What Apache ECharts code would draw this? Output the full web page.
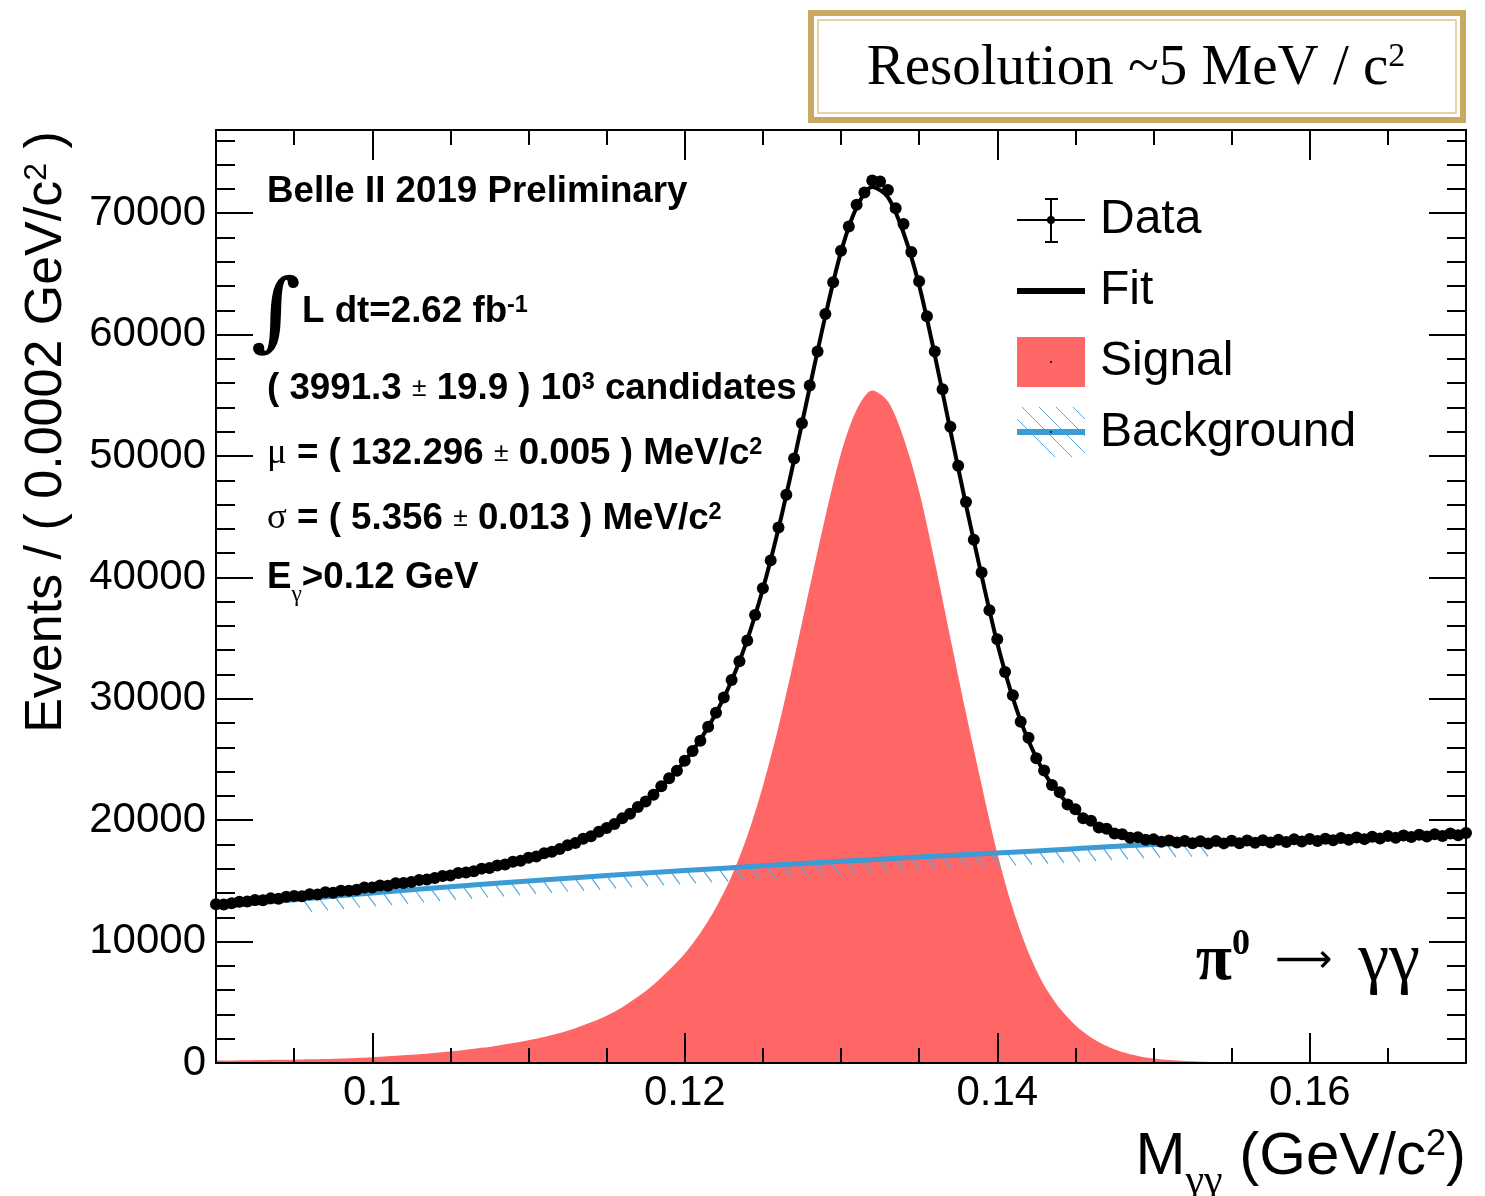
<!DOCTYPE html>
<html><head><meta charset="utf-8">
<script src="https://cdn.jsdelivr.net/npm/echarts@6/dist/echarts.min.js"></script>
<style>html,body{margin:0;padding:0;background:#fff}#c{width:1485px;height:1196px}</style>
</head><body><div id="c"></div>
<script>
// ---------------- values ----------------
const X_MIN = 0.09, X_MAX = 0.17, Y_MAX = 76850;
const xMajorTicks = [0.10, 0.12, 0.14, 0.16];
const xMajorLabels = ['0.1', '0.12', '0.14', '0.16'];

// data points (bin centres from 0.0900 in steps of 0.0005)
const DATA_X0 = 0.09, DATA_STEP = 0.0005;
const dataValues = [
 13080,13060,13150,13290,13300,13420,13400,13560,13530,13690,
 13760,13740,13900,13880,14060,14020,14180,14190,14280,14450,
 14460,14620,14600,14800,14830,14900,15080,15120,15230,15400,
 15440,15650,15700,15800,16010,16060,16260,16350,16580,16650,
 16900,17010,17280,17400,17630,17930,18120,18470,18680,19050,
 19360,19680,20150,20530,21080,21540,22100,22800,23450,24080,
 24900,25700,26550,27700,28850,30100,31550,33100,34800,36900,
 39100,41400,44100,46800,49800,52700,55800,58600,61700,64300,
 66900,68900,70700,71700,72700,72600,71900,70400,69100,66800,
 64400,61500,58600,55500,52400,49200,46200,43100,40400,37300,
 34900,32200,30300,28100,26800,25100,24100,22900,22300,21300,
 20900,20150,19950,19400,19300,18900,18850,18550,18600,18380,
 18420,18230,18330,18170,18290,18100,18260,18080,18280,18090,
 18300,18100,18330,18140,18350,18170,18380,18200,18420,18250,
 18450,18290,18480,18340,18530,18390,18580,18440,18640,18490,
 18690,18550,18740,18610,18800,18660,18850,18700,18910,18760,
 18940
];

// fit and signal curves, sampled from 0.090 in steps of 0.001
const CURVE_X0 = 0.09, CURVE_STEP = 0.001;
const fitValues = [
 13050,13185,13320,13455,13590,13725,13860,14000,14150,14310,
 14480,14654,14850,15040,15250,15470,15710,15970,16240,16550,
 16880,17240,17660,18140,18700,19340,20120,21050,22130,23420,
 24850,26630,28810,31490,34860,39040,44020,49690,55660,61540,
 66810,70480,72150,71320,68390,64060,58330,52100,45960,40130,
 34590,30060,26540,23920,22090,20750,19820,19190,18760,18510,
 18370,18270,18220,18200,18200,18210,18230,18255,18280,18310,
 18340,18385,18435,18485,18540,18590,18645,18700,18750,18806,
 18865
];
const signalValues = [
 200,215,230,245,260,275,300,330,370,420,
 480,550,630,720,830,950,1090,1250,1430,1640,
 1880,2150,2480,2870,3350,3900,4600,5450,6450,7650,
 9000,10700,12800,15400,18700,22800,27700,33300,39200,45000,
 50200,53800,55400,54500,51500,47100,41300,35000,28800,22900,
 17300,12700,9100,6400,4500,3100,2100,1400,900,580,
 370,240,160,110,80,60,45,35,28,22,
 18,15,13,11,10,9,8,7,6,6,
 5
];
const bkgX = [0.090,0.095,0.100,0.105,0.110,0.115,0.120,0.125,0.130,0.135,0.140,0.145,0.150,0.155,0.160,0.165,0.170];
const bkgValues = [12850,13450,14000,14520,15000,15440,15850,16240,16610,16960,17290,17650,18000,18150,18320,18580,18860];
const HATCH_RANGE = [0.0955, 0.1530];

// ---------------- build ----------------
const dataPts = dataValues.map((v, i) => [+(DATA_X0 + i * DATA_STEP).toFixed(4), v]);
const fitPts = fitValues.map((v, i) => [+(CURVE_X0 + i * CURVE_STEP).toFixed(3), v]);
const sigPts = signalValues.map((v, i) => [+(CURVE_X0 + i * CURVE_STEP).toFixed(3), v]);
const bkgPts = bkgX.map((x, i) => [x, bkgValues[i]]);

const SANS = '"Liberation Sans", Arial, Helvetica, sans-serif';
const SERIF = '"Liberation Serif", "Times New Roman", serif';
const BLUE = '#3a9bd5', HATCH = '#55a9df', RED = '#ff6666', GOLD = '#c9a862';

const tickLine = { color: '#000', width: 2 };
function xAxisDef(pos, major, labels) {
  const a = {
    type: 'value', min: X_MIN, max: X_MAX, position: pos, z: 10,
    axisLine: { show: !major, onZero: false, lineStyle: tickLine },
    axisTick: { show: true, inside: true, length: major ? 30 : 15, lineStyle: tickLine },
    axisLabel: { show: false }, splitLine: { show: false }
  };
  if (major) {
    a.axisTick.customValues = xMajorTicks;
    if (labels) a.axisLabel = {
      show: true, customValues: xMajorTicks, margin: 9, color: '#000',
      fontFamily: SANS, fontSize: 42,
      formatter: v => { const k = xMajorTicks.findIndex(t => Math.abs(t - v) < 1e-9); return k >= 0 ? xMajorLabels[k] : ''; }
    };
  } else {
    a.interval = 0.005;
  }
  return a;
}
function yAxisDef(pos, major, labels) {
  return {
    type: 'value', min: 0, max: Y_MAX, position: pos, z: 10,
    interval: major ? 10000 : 2000,
    axisLine: { show: !major, onZero: false, lineStyle: tickLine },
    axisTick: { show: true, inside: true, length: major ? 37 : 19, lineStyle: tickLine },
    axisLabel: labels ? { show: true, margin: 10, color: '#000', fontFamily: SANS, fontSize: 42,
      showMaxLabel: false, formatter: v => String(v) } : { show: false },
    splitLine: { show: false }
  };
}

const B = { fontFamily: SANS, fontWeight: 'bold', fontSize: 36 };
const SUP = { fontFamily: SANS, fontWeight: 'bold', fontSize: 23, verticalAlign: 'top' };
const PM = { fontFamily: SANS, fontSize: 26 };
const GR = { fontFamily: SERIF, fontSize: 36 };
function annot(y, text, x) {
  return { type: 'text', z: 20, x: x || 267, y, scaleX: 1.02, style: { text, fill: '#000', verticalAlign: 'middle',
    rich: { b: B, s: SUP, p: PM, g: GR, u: { fontFamily: SERIF, fontSize: 23, verticalAlign: 'bottom', padding: [0, 0, -10, 0] } } } };
}

const chart = echarts.init(document.getElementById('c'), null, { renderer: 'canvas' });
const option = {
  animation: false,
  backgroundColor: '#fff',
  grid: { left: 216, right: 19, top: 130, bottom: 133, containLabel: false },
  xAxis: [xAxisDef('bottom', false), xAxisDef('bottom', true, true), xAxisDef('top', false), xAxisDef('top', true, false)],
  yAxis: [yAxisDef('left', false), yAxisDef('left', true, true), yAxisDef('right', false), yAxisDef('right', true, false)],
  series: [
    { name: 'Signal', type: 'line', data: sigPts, smooth: 0.3, symbol: 'none', z: 1,
      lineStyle: { width: 0 }, areaStyle: { color: RED, opacity: 1 } },
    { name: 'BackgroundHatch', type: 'custom', data: bkgPts, z: 2, clip: true,
      renderItem: (params, api) => {
        const i = params.dataIndex;
        if (i >= bkgX.length - 1) return null;
        const p0 = api.coord([bkgX[i], bkgValues[i]]);
        const p1 = api.coord([bkgX[i + 1], bkgValues[i + 1]]);
        const xa = api.coord([HATCH_RANGE[0], 0])[0], xb = api.coord([HATCH_RANGE[1], 0])[0];
        const children = [];
        for (let px = Math.ceil(p0[0] / 16) * 16; px < p1[0]; px += 16) {
          if (px < xa || px > xb) continue;
          const t = (px - p0[0]) / (p1[0] - p0[0]);
          const py = p0[1] + t * (p1[1] - p0[1]);
          children.push({ type: 'line', shape: { x1: px, y1: py + 2, x2: px + 8, y2: py + 13 },
            style: { stroke: HATCH, lineWidth: 1.2 } });
        }
        return { type: 'group', children };
      } },
    { name: 'Background', type: 'line', data: bkgPts, smooth: 0.4, symbol: 'none', z: 3,
      lineStyle: { color: BLUE, width: 5 } },
    { name: 'Data', type: 'scatter', data: dataPts, symbol: 'circle', symbolSize: 12, z: 4,
      itemStyle: { color: '#000', opacity: 1 } },
    { name: 'Fit', type: 'line', data: fitPts, smooth: 0.3, symbol: 'none', z: 5,
      lineStyle: { color: '#000', width: 4 } }
  ],
  graphic: [
    // resolution box
    { type: 'rect', z: 20, shape: { x: 811, y: 13, width: 652, height: 107 },
      style: { fill: '#fff', stroke: GOLD, lineWidth: 6 } },
    { type: 'rect', z: 20, shape: { x: 818, y: 20, width: 638, height: 93 },
      style: { fill: null, stroke: '#dcc590', lineWidth: 1.5 } },
    { type: 'text', z: 21, x: 1136, y: 69, style: {
      text: '{r|Resolution ~5 MeV / c}{s|2}', align: 'center', verticalAlign: 'middle', fill: '#000',
      rich: { r: { fontFamily: SERIF, fontSize: 57 }, s: { fontFamily: SERIF, fontSize: 34, verticalAlign: 'top' } } } },

    // annotations
    annot(192, '{b|Belle II 2019 Preliminary}'),
    { type: 'text', z: 20, x: 276, y: 318, style: { text: '\u222B', fill: '#000',
      fontFamily: '"DejaVu Serif", serif', fontWeight: 'bold', fontSize: 86, align: 'center', verticalAlign: 'middle' } },
    annot(312, '{b|L dt=2.62 fb}{s|-1}', 302),
    annot(389, '{b|( 3991.3 }{p|\u00B1}{b| 19.9 ) 10}{s|3}{b| candidates}'),
    annot(454, '{g|\u03BC}{b| = ( 132.296 }{p|\u00B1}{b| 0.005 ) MeV/c}{s|2}'),
    annot(519, '{g|\u03C3}{b| = ( 5.356 }{p|\u00B1}{b| 0.013 ) MeV/c}{s|2}'),
    annot(578, '{b|E}{u|\u03B3}{b|>0.12 GeV}'),

    // decay label
    { type: 'text', z: 20, x: 1420, y: 962, style: { text: '{p|\u03C0}{s|0}{a|  \u27F6  }{g|\u03B3\u03B3}', fill: '#000', align: 'right', verticalAlign: 'middle',
      rich: { p: { fontFamily: SERIF, fontWeight: 'bold', fontSize: 66 }, s: { fontFamily: SERIF, fontWeight: 'bold', fontSize: 36, verticalAlign: 'top' },
              a: { fontFamily: '"DejaVu Sans", sans-serif', fontSize: 40 }, g: { fontFamily: SERIF, fontSize: 70 } } } },

    // legend
    { type: 'line', z: 20, shape: { x1: 1017, y1: 220, x2: 1085, y2: 220 }, style: { stroke: '#000', lineWidth: 2 } },
    { type: 'line', z: 20, shape: { x1: 1051, y1: 199, x2: 1051, y2: 242 }, style: { stroke: '#000', lineWidth: 2 } },
    { type: 'line', z: 20, shape: { x1: 1045, y1: 199, x2: 1058, y2: 199 }, style: { stroke: '#000', lineWidth: 2 } },
    { type: 'line', z: 20, shape: { x1: 1045, y1: 242, x2: 1058, y2: 242 }, style: { stroke: '#000', lineWidth: 2 } },
    { type: 'circle', z: 20, shape: { cx: 1051, cy: 220, r: 4 }, style: { fill: '#000' } },
    { type: 'line', z: 20, shape: { x1: 1017, y1: 291, x2: 1085, y2: 291 }, style: { stroke: '#000', lineWidth: 6 } },
    { type: 'rect', z: 20, shape: { x: 1017, y: 337, width: 68, height: 50 }, style: { fill: RED } },
    { type: 'circle', z: 21, shape: { cx: 1051, cy: 362, r: 1 }, style: { fill: '#000' } },
    { type: 'group', z: 20, children: [0, 1, 2, 3, 4, 5].map(k => ({ type: 'line', z: 20,
        shape: { x1: 1005 + k * 17, y1: 407, x2: 1055 + k * 17, y2: 457 }, style: { stroke: HATCH, lineWidth: 1 } })),
      clipPath: { type: 'rect', shape: { x: 1017, y: 407, width: 68, height: 50 } } },
    { type: 'line', z: 21, shape: { x1: 1017, y1: 432, x2: 1085, y2: 432 }, style: { stroke: BLUE, lineWidth: 6 } },
    { type: 'circle', z: 22, shape: { cx: 1051, cy: 432, r: 1 }, style: { fill: '#000' } },
    ...['Data', 'Fit', 'Signal', 'Background'].map((t, k) => ({ type: 'text', z: 20, x: 1100, y: 220 + k * 71,
      style: { text: t, fill: '#000', fontFamily: SANS, fontSize: 48, verticalAlign: 'middle' } })),

    // axis titles
    { type: 'text', z: 20, x: 1466, y: 1157, style: { text: '{t|M}{u|\u03B3\u03B3}{t| (GeV/c}{s|2}{t|)}', fill: '#000', align: 'right', verticalAlign: 'middle',
      rich: { t: { fontFamily: SANS, fontSize: 60 }, u: { fontFamily: SERIF, fontSize: 42, verticalAlign: 'bottom', padding: [0, 0, -16, 0] }, s: { fontFamily: SANS, fontSize: 36, verticalAlign: 'top' } } } },
    { type: 'text', z: 20, x: 47, y: 432, rotation: Math.PI / 2, style: { text: '{t|Events / ( 0.0002 GeV/c}{s|2}{t| )}', fill: '#000', align: 'center', verticalAlign: 'middle',
      rich: { t: { fontFamily: SANS, fontSize: 52 }, s: { fontFamily: SANS, fontSize: 32, verticalAlign: 'top' } } } }
  ]
};
chart.setOption(option);
</script></body></html>
